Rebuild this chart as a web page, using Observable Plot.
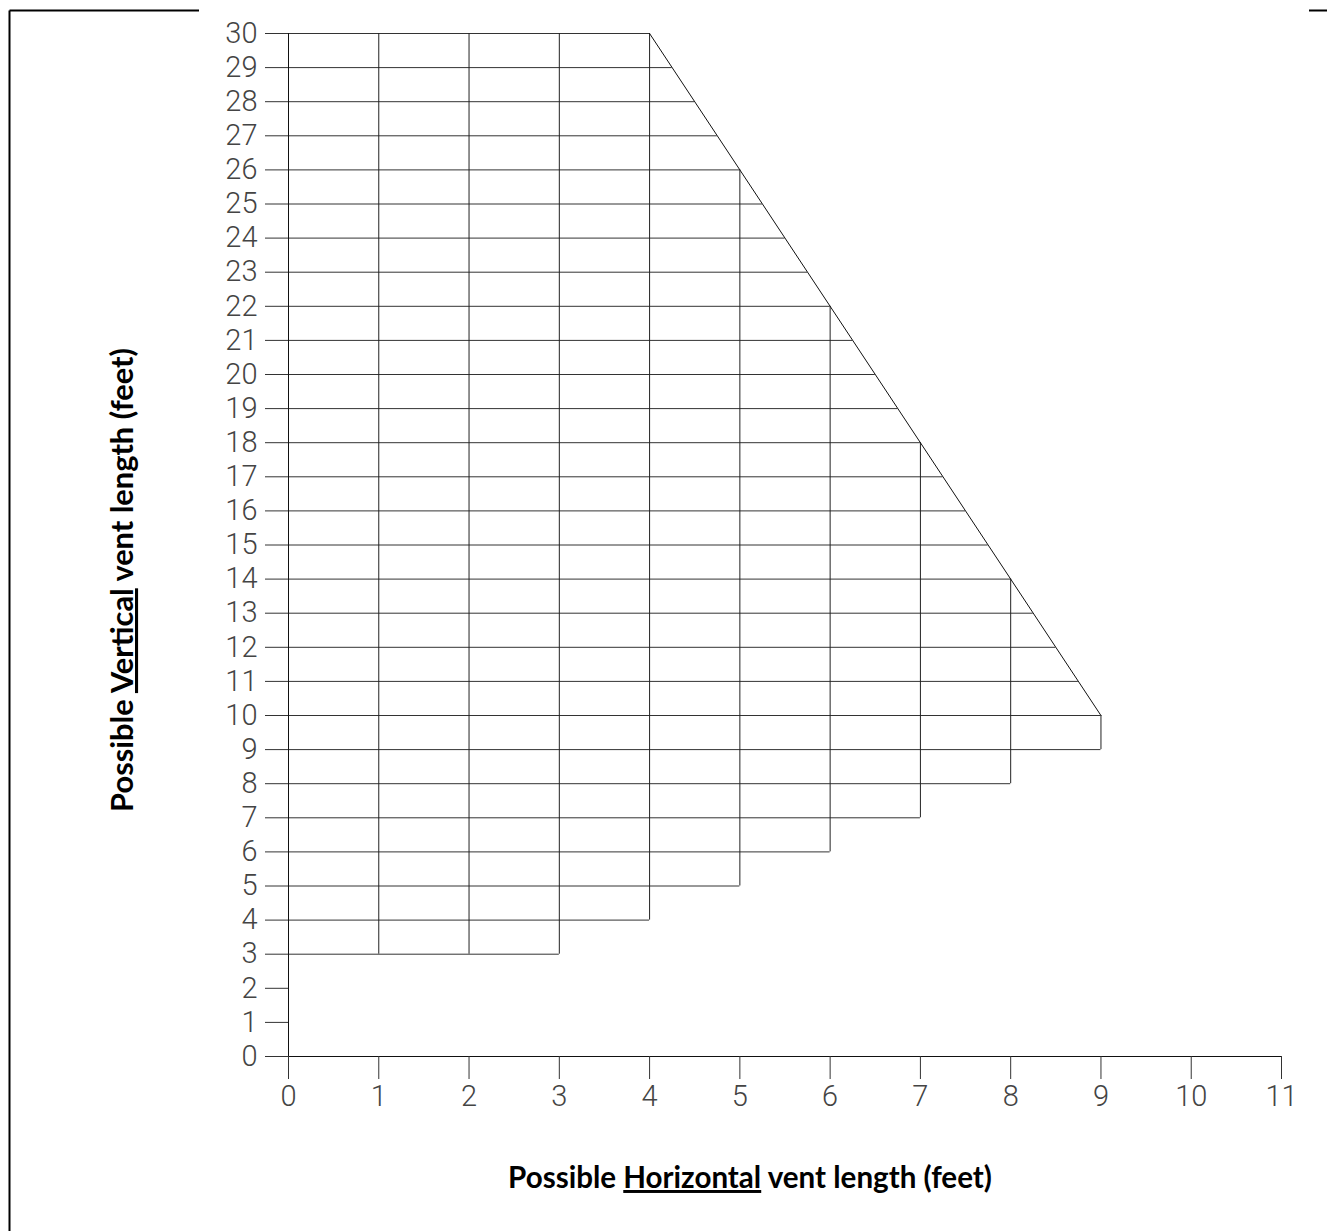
<!DOCTYPE html>
<html>
<head>
<meta charset="utf-8">
<script src="https://cdn.jsdelivr.net/npm/d3@7"></script>
<script src="https://cdn.jsdelivr.net/npm/@observablehq/plot@0.6"></script>
<style>
  html, body { margin: 0; padding: 0; background: #fff; }
  #chart { position: relative; width: 1327px; height: 1231px; }
</style>
</head>
<body>
<div id="chart"></div>
<script>
// ---- data ----
const xTicks = [0, 1, 2, 3, 4, 5, 6, 7, 8, 9, 10, 11];
const yTicks = [0, 1, 2, 3, 4, 5, 6, 7, 8, 9, 10, 11, 12, 13, 14, 15, 16, 17, 18, 19, 20, 21, 22, 23, 24, 25, 26, 27, 28, 29, 30];

// horizontal grid lines: vertical value and where each one stops on the right
const hLineY   = [3, 4, 5, 6, 7, 8, 9, 10, 11, 12, 13, 14, 15, 16, 17, 18, 19, 20, 21, 22, 23, 24, 25, 26, 27, 28, 29, 30];
const hLineEnd = [3, 4, 5, 6, 7, 8, 9, 9, 8.75, 8.5, 8.25, 8, 7.75, 7.5, 7.25, 7, 6.75, 6.5, 6.25, 6, 5.75, 5.5, 5.25, 5, 4.75, 4.5, 4.25, 4];

// vertical grid lines: horizontal value, bottom and top
const vLineX      = [1, 2, 3, 4, 5, 6, 7, 8, 9];
const vLineBottom = [3, 3, 3, 4, 5, 6, 7, 8, 9];
const vLineTop    = [30, 30, 30, 30, 26, 22, 18, 14, 10];

// sloped limit line
const limitX = [4, 9];
const limitY = [30, 10];

const xLabelParts = ["Possible ", "Horizontal", " vent length (feet)"];
const yLabelParts = ["Possible ", "Vertical", " vent length (feet)"];

// ---- tables built from the arrays ----
const hLines = hLineY.map((y, i) => ({y, start: 0, end: hLineEnd[i]}));
const vLines = vLineX.map((x, i) => ({x, bottom: vLineBottom[i], top: vLineTop[i]}));
const limit = limitX.map((x, i) => ({x, y: limitY[i]}));

const tickFont = "Roboto, 'DejaVu Sans', sans-serif";
const plot = Plot.plot({
  width: 1327,
  height: 1231,
  marginLeft: 288,
  marginRight: 46,
  marginTop: 33,
  marginBottom: 175,
  style: {background: "#fff", color: "#000", fontFamily: tickFont, fontSize: "29px"},
  x: {domain: [0, 11]},
  y: {domain: [0, 30]},
  marks: [
    Plot.ruleY(hLines, {y: "y", x1: "start", x2: "end", stroke: "#333", strokeWidth: 1}),
    Plot.ruleX(vLines, {x: "x", y1: "bottom", y2: "top", stroke: "#222", strokeWidth: 1}),
    Plot.line(limit, {x: "x", y: "y", stroke: "#111", strokeWidth: 1}),
    Plot.ruleX([0], {y1: 0, y2: 30, stroke: "#111", strokeWidth: 1}),
    Plot.ruleY([0], {x1: 0, x2: 11, stroke: "#111", strokeWidth: 1}),
    Plot.axisX({ticks: xTicks, tickSize: 23, tickPadding: 6, label: null, stroke: "#333", fill: "#444",
      fontWeight: 300, tickFormat: d => String(d)}),
    Plot.axisY({ticks: yTicks, tickSize: 23, tickPadding: 8, label: null, stroke: "#333", fill: "#444",
      fontWeight: 300, tickFormat: d => String(d)})
  ]
});
document.getElementById("chart").appendChild(plot);

// ---- page frame and axis titles ----
const svg = d3.select(plot);
const frame = svg.append("g").attr("stroke", "#000").attr("stroke-width", 2);
frame.append("line").attr("x1", 9.5).attr("y1", 10.5).attr("x2", 199).attr("y2", 10.5);
frame.append("line").attr("x1", 9.5).attr("y1", 10.5).attr("x2", 9.5).attr("y2", 1231);
frame.append("line").attr("x1", 1309).attr("y1", 10.5).attr("x2", 1327).attr("y2", 10.5);

function title(parts, x, y, rotate, targetWidth) {
  const t = svg.append("text")
    .attr("transform", `translate(${x},${y}) rotate(${rotate})`)
    .attr("text-anchor", "middle")
    .style("font-family", "Lato, 'Open Sans', sans-serif")
    .style("font-weight", "700")
    .attr("font-size", 26)
    .attr("fill", "#000")
    .style("white-space", "pre");
  parts.forEach((p, i) => {
    const s = t.append("tspan").text(p)
      .style("font-weight", "700")
      .style("font-family", "Lato, 'Open Sans', sans-serif");
    if (i === 1) s.style("text-decoration", "underline");
  });
  const w = t.node().getComputedTextLength();
  if (w > 0) t.attr("font-size", 26 * targetWidth / w);
  return t;
}
title(xLabelParts, 750, 1188, 0, 484);
title(yLabelParts, 133, 580, -90, 464);
</script>
</body>
</html>
